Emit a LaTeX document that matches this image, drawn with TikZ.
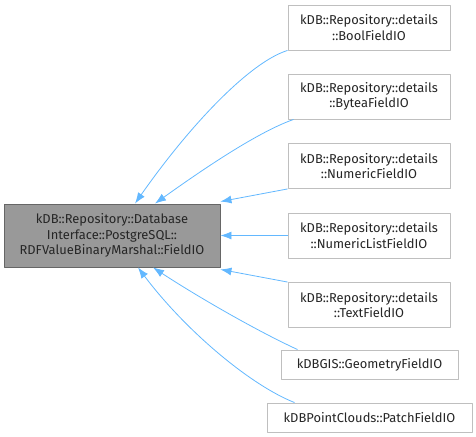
\documentclass[tikz,border=0pt]{standalone}
\usepackage{fontspec}
\setmainfont{Fira Sans}
\usetikzlibrary{arrows.meta}
\definecolor{kante}{HTML}{63B8FF}
\definecolor{rahmen}{HTML}{BFBFBF}
\tikzset{
	klasse/.style = {draw = rahmen, fill = white, line width = 0.9pt, inner sep = 0pt,
		align = center, minimum width = 162pt, minimum height = 45pt, text = black!85,
		font = \fontsize{12.9}{15.3}\selectfont},
	basis/.style = {klasse, draw = black!60, fill = black!40, minimum width = 216pt, minimum height = 63pt},
	kante/.style = {draw = kante, line width = 0.8pt, -{Latex[length=11pt,width=8pt]}}
}
\begin{document}
\begin{tikzpicture}[x=1pt,y=-1pt,line join=round]
	\useasboundingbox (0,0) rectangle (476,436);
	% Basisklasse
	\node [basis] (feldio) at (112,235.5) {kDB::Repository::Database\\Interface::PostgreSQL::\\RDFValueBinaryMarshal::FieldIO};
	% abgeleitete Klassen
	\node [klasse] (bool) at (369,27.5) {kDB::Repository::details\\::BoolFieldIO};
	\node [klasse] (bytea) at (369,96.5) {kDB::Repository::details\\::ByteaFieldIO};
	\node [klasse] (numeric) at (369,166) {kDB::Repository::details\\::NumericFieldIO};
	\node [klasse] (numlist) at (369,235.5) {kDB::Repository::details\\::NumericListFieldIO};
	\node [klasse] (text) at (369,305) {kDB::Repository::details\\::TextFieldIO};
	\node [klasse, minimum width = 177pt, minimum height = 29pt] (geometry) at (369.5,364.5) {kDBGIS::GeometryFieldIO};
	\node [klasse, minimum width = 205pt, minimum height = 29pt] (patch) at (369.5,417.5) {kDBPointClouds::PatchFieldIO};
	% Vererbungspfeile
	\draw [kante] (bool.south west) .. controls (250,62) and (190,125) .. ([xshift=23pt]feldio.north);
	\draw [kante] ([xshift=6pt]bytea.south west) .. controls (255,133) and (195,175) .. ([xshift=43pt]feldio.north);
	\draw [kante] (numeric.south west) -- ([yshift=2pt]feldio.north east);
	\draw [kante] (numlist.west) -- (feldio.east);
	\draw [kante] (text.north west) -- ([yshift=-2pt]feldio.south east);
	\draw [kante] ([xshift=17pt]geometry.north west) .. controls (255,330) and (195,295) .. ([xshift=41pt]feldio.south);
	\draw [kante] ([xshift=28pt]patch.north west) .. controls (250,385) and (185,330) .. ([xshift=26pt]feldio.south);
\end{tikzpicture}
\end{document}
